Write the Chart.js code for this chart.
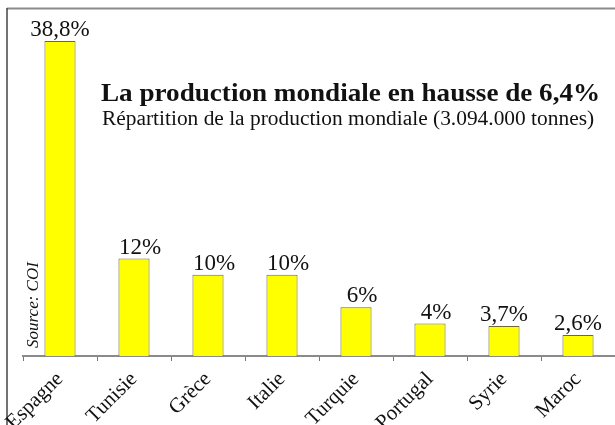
<!DOCTYPE html>
<html>
<head>
<meta charset="utf-8">
<script src="https://cdn.jsdelivr.net/npm/chart.js@4/dist/chart.umd.min.js"></script>
<style>
  html, body { margin: 0; padding: 0; background: #fff; }
  #wrap { position: relative; width: 615px; height: 425px; }
</style>
</head>
<body>
<div id="wrap"><canvas id="myChart" width="615" height="425"></canvas></div>
<script>
'use strict';
let countries = ['Espagne', 'Tunisie', 'Grèce', 'Italie', 'Turquie', 'Portugal', 'Syrie', 'Maroc'];
let shares = [38.8, 12, 10, 10, 6, 4, 3.7, 2.6];
let shareLabels = ['38,8%', '12%', '10%', '10%', '6%', '4%', '3,7%', '2,6%'];
let title = 'La production mondiale en hausse de 6,4%';
let subtitle = 'Répartition de la production mondiale (3.094.000 tonnes)';
let source = 'Source: COI';

let serif = '"Liberation Serif", "Times New Roman", serif';

// draws text a bit wider, like the scanned original
function wideText(ctx, text, x, y, sx) {
  ctx.save();
  ctx.translate(x, y);
  ctx.scale(sx, 1);
  ctx.fillText(text, 0, 0);
  ctx.restore();
}

// frame, titles and source note
let decorPlugin = {
  id: 'decor',
  beforeDraw(chart) {
    let ctx = chart.ctx;
    ctx.save();
    ctx.fillStyle = '#fff';
    ctx.fillRect(0, 0, chart.width, chart.height);
    ctx.strokeStyle = '#8a8a8a';
    ctx.lineWidth = 2;
    ctx.beginPath();
    ctx.moveTo(7, 8.5);
    ctx.lineTo(chart.width, 8.5);
    ctx.stroke();
    ctx.strokeStyle = '#444';
    ctx.lineWidth = 1.5;
    ctx.beginPath();
    ctx.moveTo(7, 8);
    ctx.lineTo(7, chart.height);
    ctx.stroke();
    ctx.restore();
  },
  afterDraw(chart) {
    let ctx = chart.ctx;
    ctx.save();
    ctx.fillStyle = '#111';
    ctx.textAlign = 'left';
    ctx.textBaseline = 'alphabetic';
    ctx.font = 'bold 25px ' + serif;
    wideText(ctx, title, 101, 101, 1.085);
    ctx.font = '20px ' + serif;
    wideText(ctx, subtitle, 102, 125, 1.07);

    ctx.translate(38, 305);
    ctx.rotate(-Math.PI / 2);
    ctx.textAlign = 'center';
    ctx.font = 'italic 17px ' + serif;
    ctx.fillText(source, 0, 0);
    ctx.restore();
  }
};

// value labels above the bars
let valuePlugin = {
  id: 'values',
  afterDatasetsDraw(chart) {
    let ctx = chart.ctx;
    let meta = chart.getDatasetMeta(0);
    ctx.save();
    ctx.fillStyle = '#111';
    ctx.font = '23px ' + serif;
    ctx.textAlign = 'center';
    ctx.textBaseline = 'alphabetic';
    meta.data.forEach(function (bar, i) {
      let shift = Number.isInteger(shares[i]) ? 6 : 0;
      ctx.fillText(shareLabels[i], bar.x + shift, bar.y - 5);
    });
    ctx.restore();
  }
};

let ctx = document.getElementById('myChart').getContext('2d');
let chart = new Chart(ctx, {
  type: 'bar',
  data: {
    labels: countries,
    datasets: [{
      data: shares,
      backgroundColor: '#ffff00',
      borderColor: '#6f6b30',
      borderWidth: 1,
      borderSkipped: 'bottom',
      categoryPercentage: 1,
      barPercentage: 0.42
    }]
  },
  options: {
    responsive: false,
    animation: false,
    devicePixelRatio: 1,
    layout: { padding: { left: 23, right: 0, top: 7, bottom: 0 } },
    plugins: {
      legend: { display: false },
      tooltip: { enabled: false }
    },
    scales: {
      x: {
        offset: true,
        afterFit(scale) { scale.height = 69; },
        grid: {
          offset: true,
          drawOnChartArea: false,
          drawTicks: true,
          tickLength: 5,
          color: '#777'
        },
        border: { color: '#8a8a8a', width: 2, dash: [3, 1] },
        ticks: {
          minRotation: 45,
          maxRotation: 45,
          padding: 6,
          color: '#111',
          font: { family: serif, size: 21 }
        }
      },
      y: {
        display: false,
        min: 0,
        max: 43
      }
    }
  },
  plugins: [decorPlugin, valuePlugin]
});
</script>
</body>
</html>
